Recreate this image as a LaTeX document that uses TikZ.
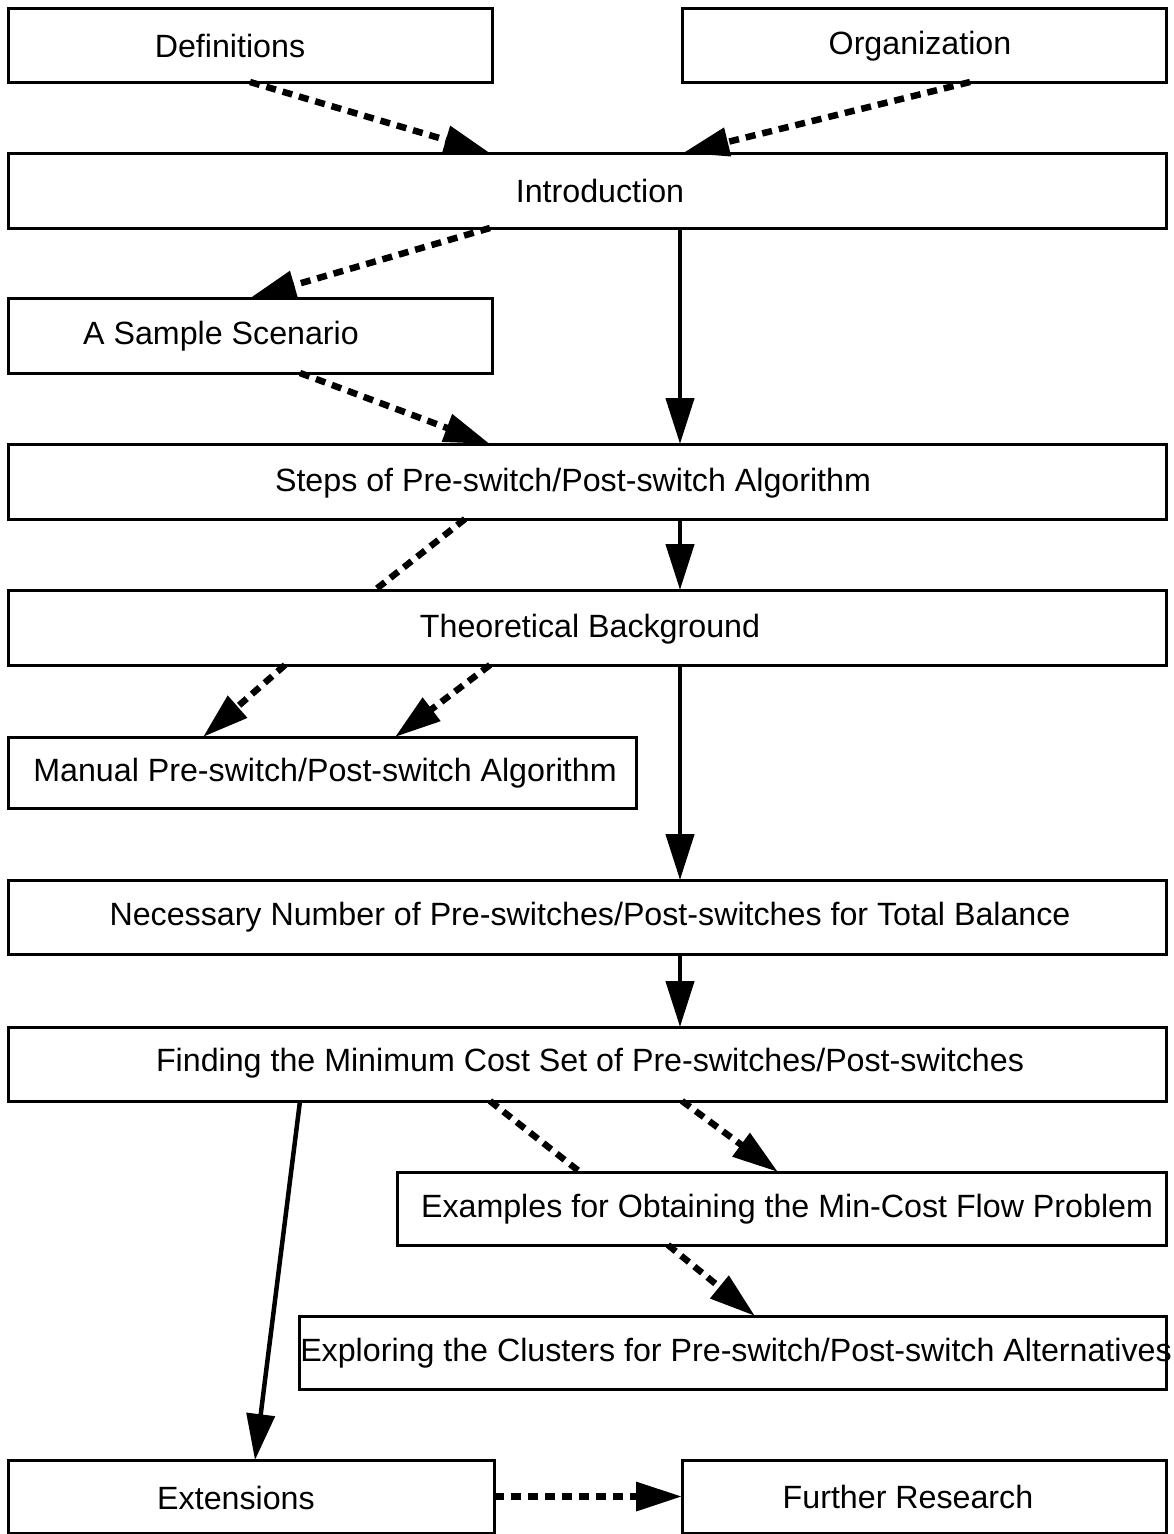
\documentclass[tikz,border=0pt]{standalone}
\usepackage{fontspec}
\setmainfont{Liberation Sans}
\usetikzlibrary{arrows.meta}
\begin{document}
\begin{tikzpicture}[x=1pt,y=-1pt,
  box/.style={draw,line width=3pt,rectangle,inner sep=0pt,outer sep=0pt,anchor=north west},
  lbl/.style={font=\fontsize{32.2}{37}\selectfont,inner sep=0pt},
  tip/.style={-{Triangle[length=46pt,width=28pt]}},
  solidarrow/.style={line width=4.5pt,tip},
  dashline/.style={line width=6.5pt,dash pattern=on 10pt off 7pt},
  dasharrow/.style={dashline,tip}]
\useasboundingbox (0,0) rectangle (1173,1534);

% boxes
\node[box,minimum width=484,minimum height=74] (defs) at (8,8) {};
\node[box,minimum width=484,minimum height=74] (org) at (682,8) {};
\node[box,minimum width=1158,minimum height=75] (intro) at (8,153) {};
\node[box,minimum width=484,minimum height=75] (scen) at (8,298) {};
\node[box,minimum width=1158,minimum height=75] (steps) at (8,444) {};
\node[box,minimum width=1158,minimum height=75] (theo) at (8,590) {};
\node[box,minimum width=628,minimum height=71] (manual) at (8,737) {};
\node[box,minimum width=1158,minimum height=74] (need) at (8,880) {};
\node[box,minimum width=1158,minimum height=74] (find) at (8,1027) {};
\node[box,minimum width=769,minimum height=73] (examp) at (397,1172) {};
\node[box,minimum width=867,minimum height=73] (explor) at (299,1316) {};
\node[box,minimum width=486,minimum height=73] (ext) at (8,1460) {};
\node[box,minimum width=484,minimum height=73] (further) at (682,1460) {};

% labels
\node[lbl] (defsT) at (230,46) {Definitions};
\node[lbl] (orgT) at (920,46) {Organization};
\node[lbl] (introT) at (600,191) {Introduction};
\node[lbl] (scenT) at (221,336) {A Sample Scenario};
\node[lbl] (stepsT) at (573,483) {Steps of Pre-switch/Post-switch Algorithm};
\node[lbl] (theoT) at (590,629) {Theoretical Background};
\node[lbl] (manualT) at (325,773) {Manual Pre-switch/Post-switch Algorithm};
\node[lbl] (needT) at (590,917) {Necessary Number of Pre-switches/Post-switches for Total Balance};
\node[lbl] (findT) at (590,1063) {Finding the Minimum Cost Set of Pre-switches/Post-switches};
\node[lbl] (exampT) at (787,1209) {Examples for Obtaining the Min-Cost Flow Problem};
\node[lbl] (explorT) at (736,1353) {Exploring the Clusters for Pre-switch/Post-switch Alternatives};
\node[lbl] (extT) at (236,1498) {Extensions};
\node[lbl] (furtherT) at (908,1497) {Further Research};

% dashed connectors
\draw[dasharrow] ([xshift=242]defs.south west) -- ([xshift=482]intro.north west);
\draw[dasharrow] ([xshift=288]org.south west) -- ([xshift=675]intro.north west);
\draw[dasharrow] ([xshift=482]intro.south west) -- ([xshift=242]scen.north west);
\draw[dasharrow] ([xshift=292]scen.south west) -- ([xshift=482]steps.north west);
\draw[dashline] ([xshift=457]steps.south west) -- ([xshift=367]theo.north west);
\draw[dasharrow] ([xshift=277]theo.south west) -- ([xshift=195]manual.north west);
\draw[dasharrow] ([xshift=482]theo.south west) -- ([xshift=387]manual.north west);
\draw[dashline] ([xshift=482]find.south west) -- ([xshift=183]examp.north west);
\draw[dasharrow] ([xshift=674]find.south west) -- ([xshift=381]examp.north west);
\draw[dasharrow] ([xshift=271]examp.south west) -- ([xshift=456]explor.north west);
\draw[dasharrow] (ext.east) -- (further.west);

% solid connectors
\draw[solidarrow] ([xshift=672]intro.south west) -- ([xshift=672]steps.north west);
\draw[solidarrow] ([xshift=672]steps.south west) -- ([xshift=672]theo.north west);
\draw[solidarrow] ([xshift=672]theo.south west) -- ([xshift=672]need.north west);
\draw[solidarrow] ([xshift=672]need.south west) -- ([xshift=672]find.north west);
\draw[solidarrow] ([xshift=292]find.south west) -- ([xshift=247]ext.north west);
\end{tikzpicture}
\end{document}
